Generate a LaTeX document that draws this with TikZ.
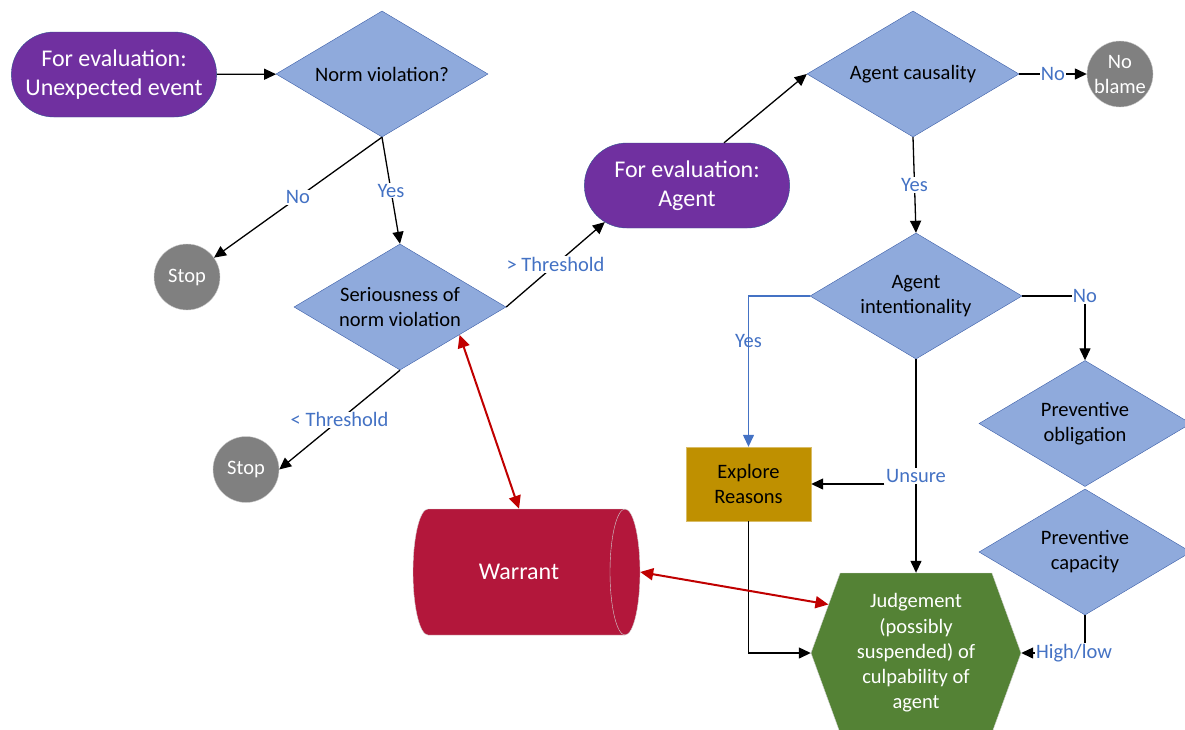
\documentclass[tikz,border=0pt]{standalone}
\usepackage{fontspec}
\setmainfont{Carlito}
\usetikzlibrary{shapes.geometric,shapes.misc,shapes.symbols,arrows.meta}

\definecolor{evalpurple}{HTML}{7030A0}
\definecolor{evalborder}{HTML}{2F528F}
\definecolor{askfill}{HTML}{8FAADC}
\definecolor{askborder}{HTML}{3B5EA8}
\definecolor{stopgray}{HTML}{808080}
\definecolor{lblblue}{HTML}{4472C4}
\definecolor{exploregold}{HTML}{BF9000}
\definecolor{judgegreen}{HTML}{548235}
\definecolor{warrantred}{HTML}{B3173B}
\definecolor{linkred}{HTML}{C00000}

\tikzset{
  evalbox/.style={rounded rectangle, fill=evalpurple, draw=evalborder, text=white,
    minimum width=212pt, minimum height=85pt, align=center, font=\fontsize{24}{29}\selectfont},
  question/.style={diamond, aspect=1.68, fill=askfill, draw=askborder, minimum width=212pt,
    minimum height=126pt, inner sep=0pt, align=center, font=\fontsize{20.5}{25}\selectfont},
  stopdot/.style={circle, fill=stopgray, draw=gray!40, text=white, minimum size=66pt,
    inner sep=0pt, align=center, font=\fontsize{20.5}{25}\selectfont},
  lbl/.style={text=lblblue, fill=white, inner sep=1pt, font=\fontsize{20.5}{24}\selectfont},
  arr/.style={-{Triangle[length=12pt,width=11pt]}, line width=1.3pt},
  redarr/.style={{Triangle[length=13pt,width=12pt]}-{Triangle[length=13pt,width=12pt]},
    draw=linkred, line width=2pt},
}

\begin{document}
\begin{tikzpicture}[x=1pt,y=-1pt]
  \useasboundingbox (0,0) rectangle (1185,729);

  % warrant drum
  \draw[fill=warrantred, draw=gray!35] (428,509) -- (625,509)
    arc[start angle=90, end angle=-90, x radius=15pt, y radius=63pt] -- (428,635)
    arc[start angle=270, end angle=90, x radius=15pt, y radius=63pt] -- cycle;
  \draw[gray!35] (625,509) arc[start angle=90, end angle=270, x radius=15pt, y radius=63pt];

  \node[evalbox] (event) at (114,74.5) {For evaluation:\\Unexpected event};
  \node[question] (norm) at (382,74) {Norm violation?};
  \node[stopdot] (stopa) at (187,277) {Stop};
  \node[question] (serious) at (400,307) {Seriousness of\\norm violation};
  \node[stopdot] (stopb) at (246,469.5) {Stop};
  \node[text=white, minimum width=212pt, minimum height=126pt, inner sep=0pt,
    font=\fontsize{24}{29}\selectfont] (warrant) at (519,572) {Warrant};
  \node[evalbox] (agent) at (687,185.5) {For evaluation:\\Agent};
  \node[question] (causal) at (913,74) {Agent causality};
  \node[stopdot] (noblame) at (1120,74) {No\\blame};
  \node[question] (intent) at (916,296) {Agent\\intentionality};
  \node[rectangle, fill=exploregold, draw=exploregold!60, minimum width=125pt, minimum height=74pt,
    align=center, font=\fontsize{20.5}{25}\selectfont] (explore) at (748.5,484) {Explore\\Reasons};
  \node[question] (obligation) at (1085,423.5) {Preventive\\obligation};
  \node[question] (capacity) at (1085,552) {Preventive\\capacity};
  \node[signal, signal to=east and west, signal pointer angle=140, fill=judgegreen, draw=gray!35,
    text=white, minimum width=210pt, minimum height=160pt, inner sep=0pt, align=center,
    font=\fontsize{20.5}{25.3}\selectfont] (judge) at (916,653)
    {Judgement\\(possibly\\suspended) of\\culpability of\\agent};

  \draw[arr] (event) -- (norm);
  \draw[arr] (norm.south) -- node[lbl] {No} (stopa);
  \draw[arr] (norm.south) -- node[lbl] {Yes} (serious.north);
  \draw[arr] (serious.east) -- node[lbl] {> Threshold} (agent.204);
  \draw[arr] (serious.south) -- node[lbl] {< Threshold} (stopb.east);
  \draw[arr] ([xshift=37pt]agent.north) -- (causal.west);
  \draw[arr] (causal.east) -- node[lbl] {No} (noblame);
  \draw[arr] (causal.south) -- node[lbl] {Yes} (intent.north);
  \draw[arr, draw=lblblue] (intent.west) -| node[lbl, fill=none, pos=0.65] {Yes} (explore.north);
  \draw[arr] (intent.east) -| node[lbl] {No} (obligation.north);
  \draw[arr] (intent.south) -- node[lbl, pos=0.547] (unsure) {Unsure} (judge.north);
  \draw[arr] (unsure.west |- explore.east) -- (explore.east);
  \draw[arr] (explore.south) |- (judge.west);
  \draw[arr] (capacity.south) |- node[lbl, xshift=-11pt] {High/low} (judge.east);

  \draw[redarr] (serious.335) -- (warrant.north);
  \draw[redarr] ([xshift=15pt]warrant.east) -- (judge.151);
\end{tikzpicture}
\end{document}
